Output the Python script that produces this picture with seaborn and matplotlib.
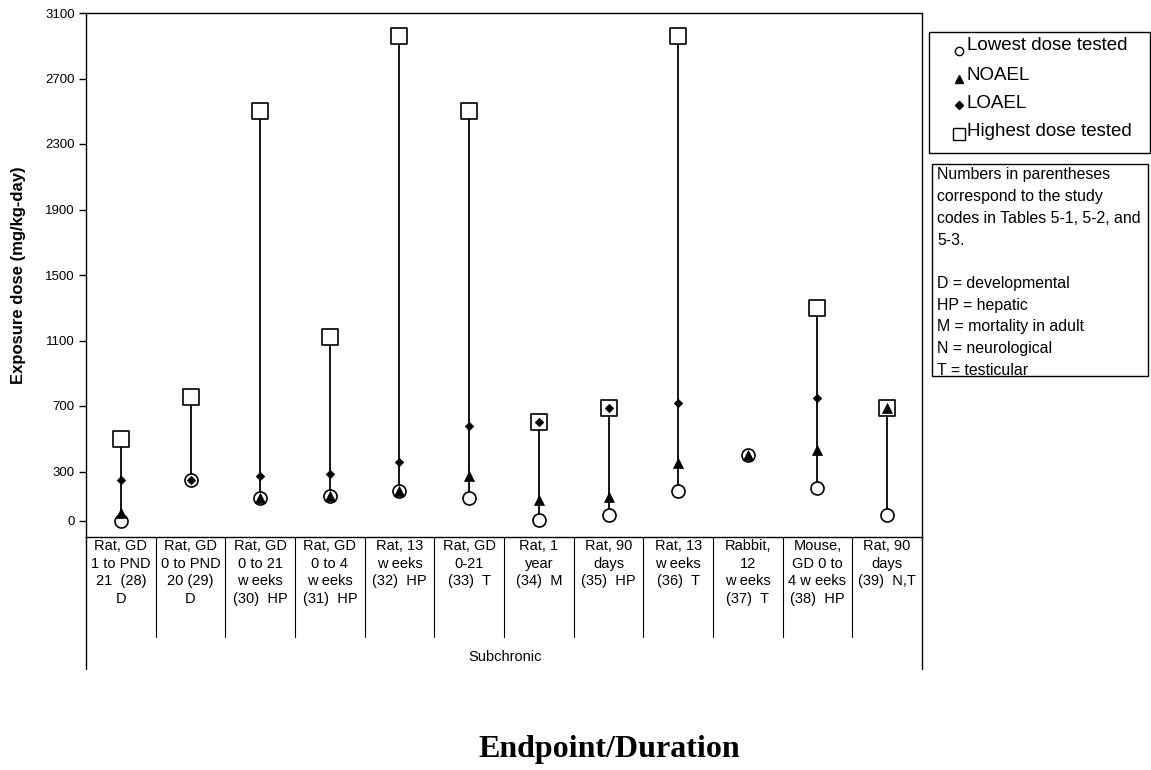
import numpy as np
import pandas as pd
import matplotlib
matplotlib.use("Agg")
import matplotlib.pyplot as plt
import matplotlib.patches as patches
from matplotlib.lines import Line2D
from matplotlib.transforms import blended_transform_factory
import seaborn as sns

# study labels (as printed under the plot)
studies = [
    "Rat, GD\n1 to PND\n21  (28)\nD",
    "Rat, GD\n0 to PND\n20 (29)\nD",
    "Rat, GD\n0 to 21\nw eeks\n(30)  HP",
    "Rat, GD\n0 to 4\nw eeks\n(31)  HP",
    "Rat, 13\nw eeks\n(32)  HP",
    "Rat, GD\n0-21\n(33)  T",
    "Rat, 1\nyear\n(34)  M",
    "Rat, 90\ndays\n(35)  HP",
    "Rat, 13\nw eeks\n(36)  T",
    "Rabbit,\n12\nw eeks\n(37)  T",
    "Mouse,\nGD 0 to\n4 w eeks\n(38)  HP",
    "Rat, 90\ndays\n(39)  N,T",
]

nan = np.nan
lowest = [0, 250, 140, 150, 180, 140, 5, 33, 180, 400, 200, 33]
noael = [45, nan, 140, 150, 180, 272, 125, 143, 352, 400, 432, 690]
loael = [250, 250, 275, 285, 355, 575, 600, 690, 720, nan, 750, nan]
highest = [500, 755, 2500, 1120, 2960, 2500, 600, 690, 2960, nan, 1300, 690]

yticks = [0, 300, 700, 1100, 1500, 1900, 2300, 2700, 3100]

legend_labels = ["Lowest dose tested", "NOAEL", "LOAEL", "Highest dose tested"]
note_lines = ["Numbers in parentheses", "correspond to the study",
              "codes in Tables 5-1, 5-2, and", "5-3.", "",
              "D = developmental", "HP = hepatic", "M = mortality in adult",
              "N = neurological", "T = testicular"]

sns.set_theme(style="white")
plt.rcParams['font.family'] = ['Liberation Sans', 'DejaVu Sans']
plt.rcParams['text.color'] = 'black'
plt.rcParams['axes.labelcolor'] = 'black'
plt.rcParams['ytick.color'] = 'black'
plt.rcParams['xtick.color'] = 'black'

W, H = 1151, 770
fig = plt.figure(figsize=(W / 100, H / 100), dpi=100)
ax = fig.add_axes([86 / W, 1 - 537 / H, (922 - 86) / W, (537 - 13) / H])


def fx(px):
    return px / W


def fy(py):
    return 1 - py / H


x = np.arange(len(studies))
df = pd.DataFrame({"x": x, "lowest": lowest, "noael": noael,
                   "loael": loael, "highest": highest})
top = df[["lowest", "noael", "loael", "highest"]].max(axis=1)

# vertical range lines
ax.vlines(df["x"], df["lowest"], top, color="black", lw=1.3, zorder=1)

sns.scatterplot(data=df, x="x", y="lowest", marker="o", s=13 ** 2 * 0.52,
                facecolor="white", edgecolor="black", linewidth=1.2, ax=ax, zorder=2)
sns.scatterplot(data=df, x="x", y="highest", marker="s", s=15 ** 2 * 0.52,
                facecolor="white", edgecolor="black", linewidth=1.2, ax=ax, zorder=2)
sns.scatterplot(data=df, x="x", y="noael", marker="^", s=10 ** 2 * 0.52,
                color="black", edgecolor="black", linewidth=0.5, ax=ax, zorder=3)
sns.scatterplot(data=df, x="x", y="loael", marker="D", s=6 ** 2 * 0.52,
                color="black", edgecolor="black", linewidth=0.5, ax=ax, zorder=4)

ax.set_xlim(-0.5, len(studies) - 0.5)
ax.set_ylim(-100, 3100)
ax.set_yticks(yticks)
ax.set_yticklabels([str(t) for t in yticks], fontsize=9.5)
ax.set_xticks([])
ax.set_xlabel("")
ax.set_ylabel("Exposure dose (mg/kg-day)", fontsize=12, fontweight="bold", labelpad=14)
ax.tick_params(axis="y", direction="out", length=5, width=1, color="black", pad=3, left=True)
for sp in ax.spines.values():
    sp.set_color("black")
    sp.set_linewidth(1)

# table of study labels below the axis
tr = blended_transform_factory(ax.transData, fig.transFigure)
for i in range(1, len(studies)):
    ax.plot([i - 0.5, i - 0.5], [fy(537), fy(637)], color="black", lw=0.8,
            transform=tr, clip_on=False)
for xe in (-0.5, len(studies) - 0.5):
    ax.plot([xe, xe], [fy(537), fy(669)], color="black", lw=1,
            transform=tr, clip_on=False)
for i, lab in enumerate(studies):
    ax.text(i, fy(539), lab, transform=tr, ha="center", va="top",
            fontsize=10.5, linespacing=1.32)
fig.text(fx(505), fy(657), "Subchronic", ha="center", va="center", fontsize=10.5)
fig.text(fx(478), fy(750), "Endpoint/Duration", ha="left", va="center",
         fontsize=23, fontweight="bold", family=["Liberation Serif", "DejaVu Serif"])

# marker legend (drawn as a framed box)
fig.patches.append(patches.Rectangle((fx(929), fy(153)), fx(1150) - fx(929),
                                     fy(32) - fy(153), transform=fig.transFigure,
                                     fill=False, edgecolor="black", lw=1))
leg_styles = [dict(marker="o", ms=6, mfc="white", mec="black", mew=1),
              dict(marker="^", ms=6, mfc="black", mec="black"),
              dict(marker="D", ms=4.2, mfc="black", mec="black"),
              dict(marker="s", ms=8, mfc="white", mec="black", mew=1)]
text_y = [46, 75, 103, 132]
mark_y = [51, 79, 105, 134]
for lab, st, ty, my in zip(legend_labels, leg_styles, text_y, mark_y):
    fig.add_artist(Line2D([fx(959)], [fy(my)], ls="none", transform=fig.transFigure, **st))
    fig.text(fx(967), fy(ty), lab, ha="left", va="center", fontsize=13.5)

# notes box
fig.patches.append(patches.Rectangle((fx(932), fy(376)), fx(1148) - fx(932),
                                     fy(164) - fy(376), transform=fig.transFigure,
                                     fill=False, edgecolor="black", lw=1))
for k, line in enumerate(note_lines):
    fig.text(fx(937), fy(175 + 21.7 * k), line, ha="left", va="center", fontsize=11.4)

fig.savefig("out.png", dpi=100)
